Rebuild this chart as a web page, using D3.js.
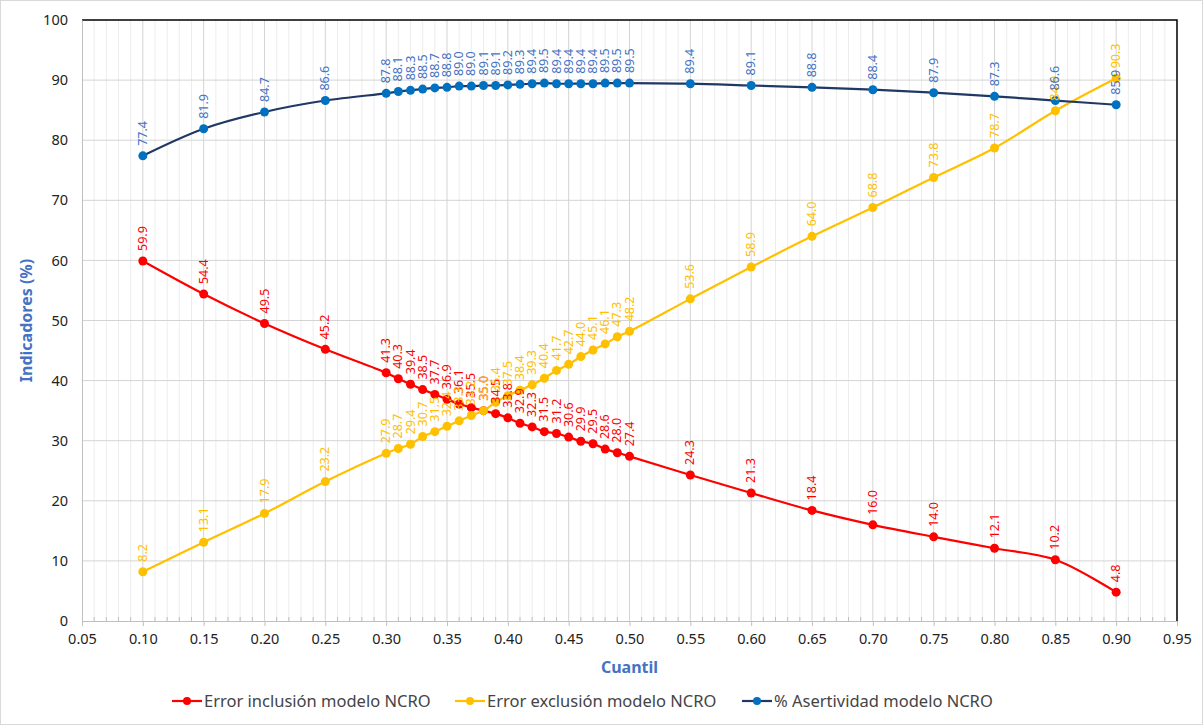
<!DOCTYPE html>
<html>
<head>
<meta charset="utf-8">
<script src="https://cdn.jsdelivr.net/npm/d3@7"></script>
<style>
  body { margin: 0; background: #fff; }
  svg { display: block; font-family: "Noto Sans", "Open Sans", sans-serif; }
</style>
</head>
<body>
<svg id="chart" width="1204" height="726"></svg>
<script>
"use strict";

const quantiles = [0.10, 0.15, 0.20, 0.25, 0.30, 0.31, 0.32, 0.33, 0.34, 0.35, 0.36, 0.37, 0.38, 0.39,
    0.40, 0.41, 0.42, 0.43, 0.44, 0.45, 0.46, 0.47, 0.48, 0.49, 0.50, 0.55, 0.60, 0.65, 0.70,
    0.75, 0.80, 0.85, 0.90];

const inclusion = [59.9, 54.4, 49.5, 45.2, 41.3, 40.3, 39.4, 38.5, 37.7, 36.9, 36.1, 35.5, 35.0, 34.5,
    33.8, 32.9, 32.3, 31.5, 31.2, 30.6, 29.9, 29.5, 28.6, 28.0, 27.4, 24.3, 21.3, 18.4, 16.0,
    14.0, 12.1, 10.2, 4.8];

const exclusion = [8.2, 13.1, 17.9, 23.2, 27.9, 28.7, 29.4, 30.7, 31.5, 32.4, 33.3, 34.2, 35.0, 36.4,
    37.5, 38.4, 39.3, 40.4, 41.7, 42.7, 44.0, 45.1, 46.1, 47.3, 48.2, 53.6, 58.9, 64.0, 68.8,
    73.8, 78.7, 84.9, 90.3];

const asertividad = [77.4, 81.9, 84.7, 86.6, 87.8, 88.1, 88.3, 88.5, 88.7, 88.8, 89.0, 89.0, 89.1, 89.1,
    89.2, 89.3, 89.4, 89.5, 89.4, 89.4, 89.4, 89.4, 89.5, 89.5, 89.5, 89.4, 89.1, 88.8, 88.4,
    87.9, 87.3, 86.6, 85.9];

const xTicks = d3.range(0.05, 0.951, 0.05);
const yTicks = d3.range(0, 101, 10);

const series = [
    { name: "Error inclusión modelo NCRO", values: inclusion, line: "#ff0000", dot: "#ff0000", label: "#ff0000" },
    { name: "Error exclusión modelo NCRO", values: exclusion, line: "#ffc000", dot: "#ffc000", label: "#ffc000" },
    { name: "% Asertividad modelo NCRO", values: asertividad, line: "#203864", dot: "#0070c0", label: "#4472c4" }
];

const svg = d3.select("#chart");
const W = 1204, H = 726;
const m = { left: 82, right: 1177, top: 20, bottom: 621 };

// outer frame
svg.append("rect")
    .attr("x", 0.5).attr("y", 0.5)
    .attr("width", W - 2).attr("height", H - 2)
    .attr("fill", "#fff").attr("stroke", "#d9d9d9");

const x = d3.scaleLinear().domain([0.05, 0.95]).range([m.left, m.right]);
const y = d3.scaleLinear().domain([0, 100]).range([m.bottom, m.top]);

// minor vertical grid every 0.01
const minor = d3.range(0.06, 0.95, 0.01).filter(v => Math.abs(Math.round(v * 20) - v * 20) > 1e-6);
svg.append("g").selectAll("line").data(minor).join("line")
    .attr("x1", d => x(d)).attr("x2", d => x(d))
    .attr("y1", m.top).attr("y2", m.bottom)
    .attr("stroke", "#ededed").attr("stroke-width", 1);

// major vertical grid
svg.append("g").selectAll("line").data(xTicks.slice(1, -1)).join("line")
    .attr("x1", d => x(d)).attr("x2", d => x(d))
    .attr("y1", m.top).attr("y2", m.bottom)
    .attr("stroke", "#d4d4d4").attr("stroke-width", 1);

// horizontal grid
svg.append("g").selectAll("line").data(yTicks.slice(1, -1)).join("line")
    .attr("x1", m.left).attr("x2", m.right)
    .attr("y1", d => y(d)).attr("y2", d => y(d))
    .attr("stroke", "#d4d4d4").attr("stroke-width", 1);

// plot border top and right
svg.append("path")
    .attr("d", `M${m.left},${m.top}H${m.right}V${m.bottom}`)
    .attr("fill", "none").attr("stroke", "#000").attr("stroke-width", 1.5);

// minor ticks on x axis
svg.append("g").selectAll("line").data(minor).join("line")
    .attr("x1", d => x(d)).attr("x2", d => x(d))
    .attr("y1", m.bottom - 4).attr("y2", m.bottom)
    .attr("stroke", "#bfbfbf");

// axes
const xAxis = svg.append("g")
    .attr("transform", `translate(0,${m.bottom})`)
    .call(d3.axisBottom(x).tickValues(xTicks).tickFormat(d3.format(".2f")).tickSize(5).tickPadding(8));
const yAxis = svg.append("g")
    .attr("transform", `translate(${m.left},0)`)
    .call(d3.axisLeft(y).tickValues(yTicks).tickSize(0).tickPadding(14));

[xAxis, yAxis].forEach(a => {
    a.select(".domain").attr("stroke", "#bfbfbf");
    a.selectAll(".tick line").attr("stroke", "#bfbfbf");
    a.selectAll("text").attr("font-size", 14.5).attr("fill", "#222")
        .attr("font-family", "'Noto Sans', sans-serif");
});

// axis titles
svg.append("text")
    .attr("x", (m.left + m.right) / 2).attr("y", 673)
    .attr("text-anchor", "middle")
    .attr("font-size", 16).attr("font-weight", "bold").attr("fill", "#4472c4")
    .text("Cuantil");
svg.append("text")
    .attr("transform", `translate(32,${(m.top + m.bottom) / 2}) rotate(-90)`)
    .attr("text-anchor", "middle")
    .attr("font-size", 16).attr("font-weight", "bold").attr("fill", "#4472c4")
    .text("Indicadores (%)");

const line = d3.line()
    .x((d, i) => x(quantiles[i]))
    .y(d => y(d))
    .curve(d3.curveCatmullRom.alpha(0.5));

series.forEach(s => {
    const g = svg.append("g");
    g.append("path")
        .datum(s.values)
        .attr("d", line)
        .attr("fill", "none")
        .attr("stroke", s.line)
        .attr("stroke-width", 2.2);
    g.selectAll("circle").data(s.values).join("circle")
        .attr("cx", (d, i) => x(quantiles[i]))
        .attr("cy", d => y(d))
        .attr("r", 4.5)
        .attr("fill", s.dot);
});

// data labels drawn after all lines
series.forEach(s => {
    svg.append("g").selectAll("text").data(s.values).join("text")
        .attr("transform", (d, i) => `translate(${x(quantiles[i]) + 4},${y(d) - 10}) rotate(-90)`)
        .attr("text-anchor", "start")
        .attr("font-size", 12.5)
        .attr("fill", s.label)
        .text(d => d.toFixed(1));
});

// legend
const legendX = [172, 455, 742];
const legend = svg.append("g");
series.forEach((s, i) => {
    const lg = legend.append("g").attr("transform", `translate(${legendX[i]},701)`);
    lg.append("line").attr("x1", 0).attr("x2", 30).attr("stroke", s.line).attr("stroke-width", 2.2);
    lg.append("circle").attr("cx", 15).attr("r", 4).attr("fill", s.dot);
    lg.append("text").attr("x", 32).attr("y", 5.5)
        .attr("font-size", 16.5).attr("fill", "#444")
        .text(s.name);
});
</script>
</body>
</html>
